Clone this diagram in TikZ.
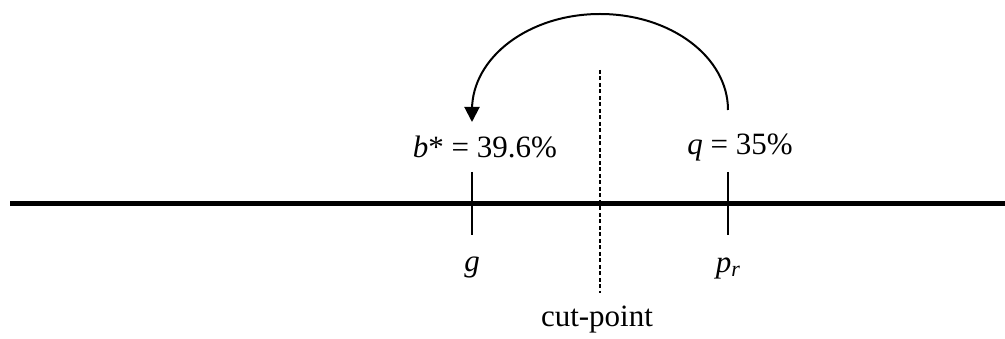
\documentclass[tikz,border=0pt]{standalone}
\usepackage{fontspec}
\setmainfont{Liberation Serif}
\usetikzlibrary{arrows.meta}
\begin{document}
\begin{tikzpicture}[x=1pt,y=-1pt,
  lbl/.style={inner sep=0pt,font=\fontsize{31}{36}\selectfont},
  tick/.style={line width=2pt},
  axis/.style={line width=5pt}]
\useasboundingbox (0,0) rectangle (1005,339);
\coordinate (L) at (10,204);
\coordinate (R) at (1005,204);
\draw[axis] (L) -- (R);
\coordinate (gt) at (472,172);
\coordinate (gb) at (472,235);
\coordinate (pt) at (728,172);
\coordinate (pb) at (728,235);
\draw[tick] (gt) -- (gb);
\draw[tick] (pt) -- (pb);
\coordinate (ct) at (600,70);
\coordinate (cb) at (600,293);
\draw[line width=1.3pt,dash pattern=on 4pt off 2.5pt] (ct) -- (cb);
\node[lbl] (b) at (485,147) {\textit{b}* = 39.6\%};
\node[lbl] (q) at (740,147) {\textit{q} = 35\%};
\node[lbl] (g) at (472,268) {\textit{g}};
\node[lbl] (p) at (728,268) {\textit{p}\raisebox{-4pt}{\fontsize{22}{24}\selectfont\textit{r}}};
\node[lbl] (c) at (597,320) {cut-point};
\coordinate (as) at (728,110);
\coordinate (ae) at (472,122);
\draw[line width=2pt,-{Triangle[length=15pt,width=15pt]}] (as) arc[start angle=0,end angle=180,x radius=128,y radius=-96] -- (ae);
\end{tikzpicture}
\end{document}
